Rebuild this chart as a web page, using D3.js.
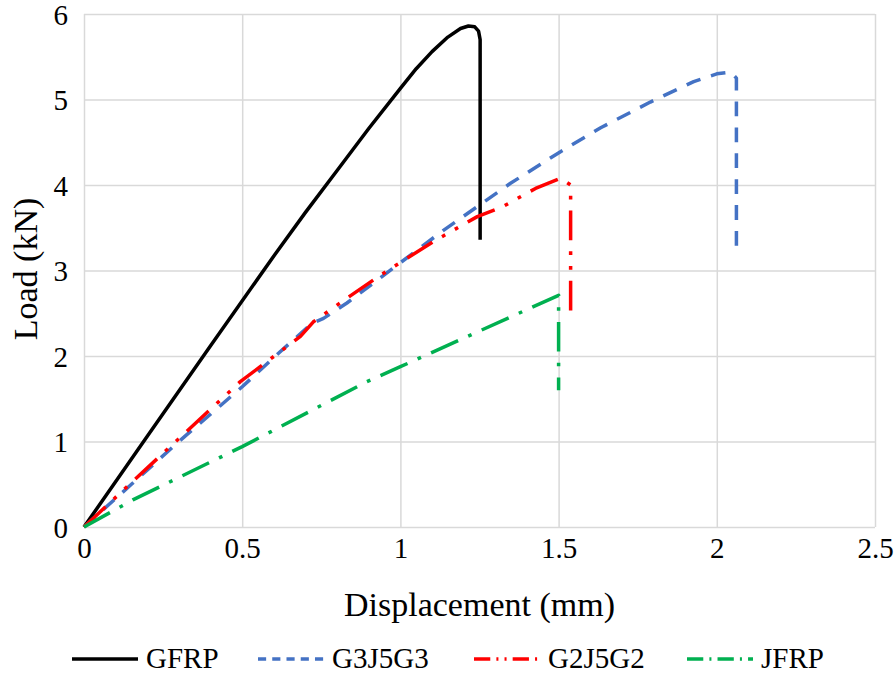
<!DOCTYPE html>
<html>
<head>
<meta charset="utf-8">
<script src="https://cdn.jsdelivr.net/npm/d3@7"></script>
<style>
  body { margin: 0; background: #fff; }
</style>
</head>
<body>
<div id="chart"></div>
<script>
// series: [displacement (mm), load (kN)]
var gfrp = [[0,0],[0.2,1.06],[0.4,2.12],[0.6,3.17],[0.7,3.68],[0.8,4.17],[0.9,4.66],[1.0,5.13],
  [1.05,5.36],[1.1,5.56],[1.15,5.73],[1.19,5.83],[1.215,5.86],[1.235,5.85],[1.247,5.8],
  [1.252,5.7],[1.252,3.36]];
var g3j5g3 = [[0,0],[0.15,0.5],[0.3,1.0],[0.5,1.64],[0.62,2.05],[0.72,2.38],[0.757,2.44],
  [0.831,2.62],[0.978,3.03],[1.136,3.47],[1.348,4.02],[1.506,4.39],[1.633,4.67],[1.79,4.97],
  [1.927,5.21],[2.0,5.30],[2.044,5.32],[2.062,5.25],[2.062,3.24]];
var g2j5g2 = [[0,0],[0.15,0.52],[0.29,1.0],[0.494,1.70],[0.557,1.875],[0.684,2.23],[0.725,2.40],
  [0.852,2.73],[0.915,2.89],[0.96,3.0],[1.105,3.34],[1.243,3.63],[1.32,3.74],[1.427,3.96],
  [1.506,4.08],[1.538,4.0],[1.538,2.50]];
var jfrp = [[0,0],[0.156,0.32],[0.5,0.94],[0.894,1.70],[1.0,1.875],[1.5,2.71],[1.5,1.60]];

var seriesNames = ["GFRP", "G3J5G3", "G2J5G2", "JFRP"];
var xTicks = [0, 0.5, 1, 1.5, 2, 2.5];
var yTicks = [0, 1, 2, 3, 4, 5, 6];

var serif = "'Liberation Serif', 'DejaVu Serif', 'Times New Roman', serif";

var margin = { top: 14, right: 21, bottom: 147, left: 84 },
  width = 896 - margin.left - margin.right,
  height = 674 - margin.top - margin.bottom;

var u = 3.7; // dash unit
var styles = [
  { color: "#000000", dash: null },
  { color: "#4472C4", dash: [4*u, 3*u] },
  { color: "#FF0000", dash: [8*u, 3*u, 1*u, 3*u, 1*u, 3*u] },
  { color: "#00B050", dash: [8*u, 3*u, 1*u, 3*u] }
];

var svg = d3.select("#chart").append("svg")
  .attr("width", 896).attr("height", 674)
  .attr("font-family", serif);
var g = svg.append("g")
  .attr("transform", "translate(" + margin.left + "," + margin.top + ")");

var x = d3.scaleLinear().domain([0, 2.5]).range([0, width]);
var y = d3.scaleLinear().domain([0, 6]).range([height, 0]);

// grid
g.append("g")
  .call(d3.axisLeft(y).tickValues(yTicks).tickSize(-width).tickFormat(""))
  .call(function (s) { s.select(".domain").remove(); })
  .selectAll("line").attr("stroke", "#d9d9d9").attr("stroke-width", 1.5);
g.append("g")
  .attr("transform", "translate(0," + height + ")")
  .call(d3.axisBottom(x).tickValues(xTicks).tickSize(-height).tickFormat(""))
  .call(function (s) { s.select(".domain").remove(); })
  .selectAll("line").attr("stroke", "#d9d9d9").attr("stroke-width", 1.5);

// tick labels
g.append("g")
  .call(d3.axisLeft(y).tickValues(yTicks).tickSize(0).tickPadding(16).tickFormat(d3.format("")))
  .call(function (s) { s.select(".domain").remove(); })
  .attr("font-family", serif)
  .selectAll("text").attr("font-size", 29).attr("fill", "#000").attr("dy", "0.36em");
g.append("g")
  .attr("transform", "translate(0," + height + ")")
  .call(d3.axisBottom(x).tickValues(xTicks).tickSize(0).tickPadding(10).tickFormat(d3.format("")))
  .call(function (s) { s.select(".domain").remove(); })
  .attr("font-family", serif)
  .selectAll("text").attr("font-size", 29).attr("fill", "#000");

// axis titles
svg.append("text")
  .attr("x", margin.left + width / 2)
  .attr("y", 616)
  .attr("text-anchor", "middle")
  .attr("font-size", 34)
  .text("Displacement (mm)");
svg.append("g")
  .attr("transform", "translate(37,269) rotate(-90)")
  .append("text")
  .attr("x", 0).attr("y", 0)
  .attr("text-anchor", "middle")
  .attr("font-size", 34)
  .text("Load (kN)");

// lines
var line = d3.line()
  .x(function (d) { return x(d[0]); })
  .y(function (d) { return y(d[1]); });

var allSeries = [gfrp, g3j5g3, g2j5g2, jfrp];
allSeries.forEach(function (data, i) {
  g.append("path")
    .datum(data)
    .attr("fill", "none")
    .attr("stroke", styles[i].color)
    .attr("stroke-width", 3.5)
    .attr("stroke-linejoin", "round")
    .attr("stroke-dasharray", styles[i].dash ? styles[i].dash.join(",") : null)
    .attr("d", line);
});

// legend
var legendX = [72, 258, 474, 687];
var legend = svg.append("g");
seriesNames.forEach(function (name, i) {
  legend.append("line")
    .attr("x1", legendX[i]).attr("x2", legendX[i] + 66)
    .attr("y1", 659).attr("y2", 659)
    .attr("stroke", styles[i].color)
    .attr("stroke-width", 3.5)
    .attr("stroke-dasharray", styles[i].dash ? styles[i].dash.map(function (v) { return v * 0.55; }).join(",") : null);
  legend.append("text")
    .attr("x", legendX[i] + 74)
    .attr("y", 668)
    .attr("font-size", 29)
    .text(name);
});
</script>
</body>
</html>
